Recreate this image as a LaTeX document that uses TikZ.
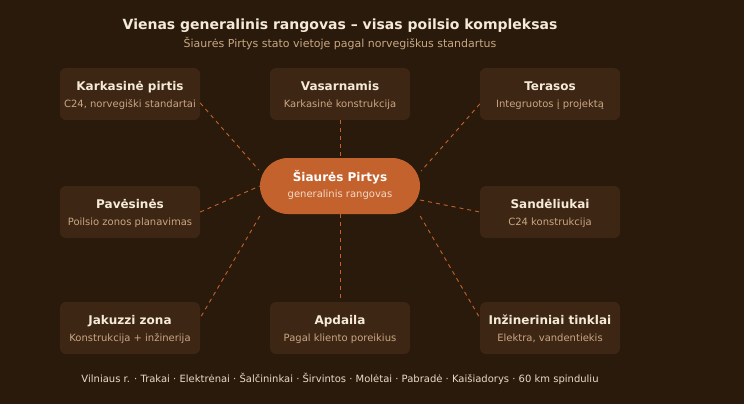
\documentclass[tikz,border=0pt]{standalone}
\usepackage{fontspec}
\setmainfont{DejaVu Sans}
\usetikzlibrary{calc}
\definecolor{fonas}{HTML}{2A1A0B}
\definecolor{dezute}{HTML}{3D2613}
\definecolor{akcentas}{HTML}{C4622D}
\definecolor{sviesus}{HTML}{F5EAD8}
\definecolor{blankus}{HTML}{C9A784}
\definecolor{apacia}{HTML}{E8DCC6}
\definecolor{centrosub}{HTML}{F3D9C6}
\tikzset{
  kortele/.style={fill=dezute, rounded corners=6pt, minimum width=140pt, minimum height=52pt, inner sep=0pt},
  pavad/.style={text=sviesus, font=\fontsize{12}{14}\selectfont\bfseries, anchor=base, inner sep=0pt},
  aprasas/.style={text=blankus, font=\fontsize{10}{12}\selectfont, anchor=base, inner sep=0pt},
  jungtis/.style={draw=akcentas, dash pattern=on 4pt off 4pt, line width=0.9pt},
}
\newcommand{\blokas}[5]{%
  \node[kortele] (#1) at (#2,#3) {};
  \node[pavad] (#1-t) at ($(#1)+(0,-4)$) {#4};
  \node[aprasas] (#1-s) at ($(#1)+(0,13)$) {#5};}
\begin{document}
\begin{tikzpicture}[x=1pt, y=-1pt, line join=round]
\fill[fonas] (0,0) rectangle (744,404);
\useasboundingbox (0,0) rectangle (744,404);
% antraste
\node[pavad, font=\fontsize{14}{16}\selectfont\bfseries] (antr) at (340,30) {Vienas generalinis rangovas – visas poilsio kompleksas};
\node[aprasas, font=\fontsize{11}{13}\selectfont] (paant) at (340,48) {Šiaurės Pirtys stato vietoje pagal norvegiškus standartus};
% korteles
\blokas{kp}{130}{94}{Karkasinė pirtis}{C24, norvegiški standartai}
\blokas{vas}{340}{94}{Vasarnamis}{Karkasinė konstrukcija}
\blokas{ter}{550}{94}{Terasos}{Integruotos į projektą}
\blokas{pav}{130}{212}{Pavėsinės}{Poilsio zonos planavimas}
\blokas{san}{550}{212}{Sandėliukai}{C24 konstrukcija}
\blokas{jak}{130}{328}{Jakuzzi zona}{Konstrukcija + inžinerija}
\blokas{apd}{340}{328}{Apdaila}{Pagal kliento poreikius}
\blokas{inz}{550}{328}{Inžineriniai tinklai}{Elektra, vandentiekis}
% centras
\node[fill=akcentas, rounded corners=28pt, minimum width=160pt, minimum height=56pt, inner sep=0pt] (sp) at (340,186) {};
\node[pavad, text=white] (sp-t) at ($(sp)+(0,-5)$) {Šiaurės Pirtys};
\node[aprasas, text=centrosub] (sp-s) at ($(sp)+(0,11)$) {generalinis rangovas};
% jungtys
\draw[jungtis] ($(kp.east)+(0,9)$) -- ($(sp.west)+(-1,-16)$);
\draw[jungtis] (vas.south) -- (sp.north);
\draw[jungtis] ($(ter.west)+(0,10)$) -- ($(sp.east)+(1,-15)$);
\draw[jungtis] (pav.east) -- (sp.west);
\draw[jungtis] ($(sp.east)+(0,14)$) -- (san.west);
\draw[jungtis] ($(sp.west)+(0,30)$) -- ($(jak.east)+(0,-10)$);
\draw[jungtis] (sp.south) -- (apd.north);
\draw[jungtis] ($(sp.east)+(0,30)$) -- ($(inz.west)+(0,-10)$);
% apacia
\node[aprasas, text=apacia] (miestai) at (340,382) {Vilniaus r. · Trakai · Elektrėnai · Šalčininkai · Širvintos · Molėtai · Pabradė · Kaišiadorys · 60 km spinduliu};
\end{tikzpicture}
\end{document}
